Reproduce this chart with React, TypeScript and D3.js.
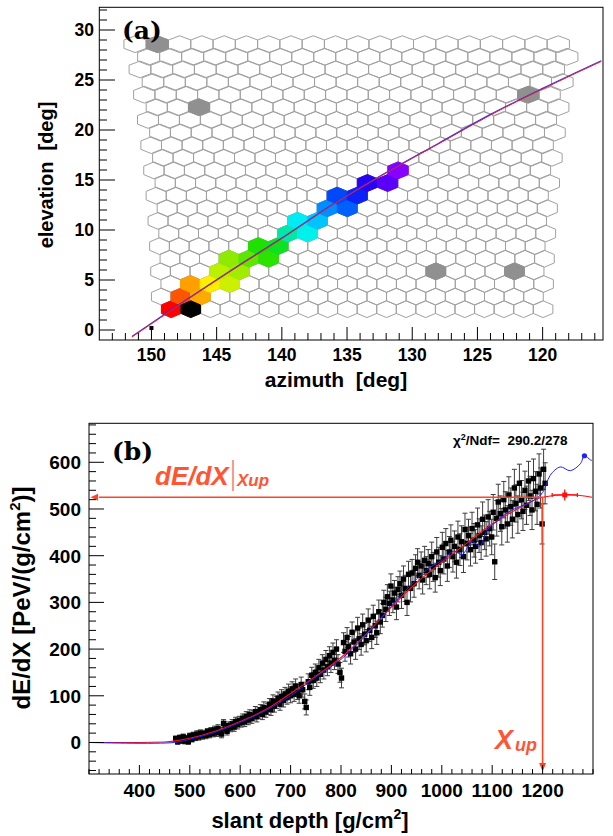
import React from "react";
import * as d3 from "d3";

// ---------- panel (a): camera pixels ----------
const nRows = 22;
const nCols = 20;
const rowEl0 = 2.08; // elevation of bottom row (deg)
const rowStep = 1.262; // elevation step between rows (deg)
const azCenter = 134.6;
const pixDeg = 1.5;

// pixels hit by the shower (row, col, arrival time rank)
const trackRow = [0, 1, 1, 2, 2, 2, 3, 3, 4, 4, 4, 5, 5, 6, 6, 7, 7, 8, 8, 9, 9, 10, 10, 11];
const trackCol = [0, 1, 2, 1, 2, 3, 3, 4, 3, 4, 5, 5, 6, 6, 7, 7, 8, 8, 9, 9, 10, 10, 11, 12];
const trackTime = [0, 1, 2.5, 2.3, 3.5, 4.6, 5, 5.6, 6, 6.9, 7.6, 7.8, 8.3, 9.5, 10.2, 10.4, 11, 11.8, 12.4, 12.7, 13.3, 13.9, 14.6, 15.2];
// saturated pixel
const satRow = [0];
const satCol = [1];
// random-trigger (noise) pixels
const noiseRow = [21, 16, 17, 3, 3];
const noiseCol = [1, 2, 18, 14, 18];

// shower-detector plane fit
const fitAz = [151.5, 148, 144, 140, 136, 132, 128, 124, 120, 115.5];
const fitEl = [-0.7, 2.38, 5.82, 9.14, 12.6, 15.7, 18.6, 21.5, 24.1, 26.86];

// station
const stationAz = [150];
const stationEl = [0];

// ---------- panel (b): longitudinal profile ----------
const depth = [472, 476, 480, 483, 487, 490, 494, 497, 500, 504, 507, 511, 514, 518, 521, 525, 528, 532, 535, 539, 542, 546, 549, 553, 556, 560, 563, 567, 570, 574, 577, 581, 584, 588, 591, 595, 598, 602, 605, 609, 612, 616, 619, 623, 626, 630, 633, 637, 640, 644, 647, 651, 654, 658, 661, 665, 668, 672, 675, 679, 682, 686, 689, 693, 696, 700, 703, 707, 710, 714, 717, 721, 724, 728, 731, 735, 738, 742, 745, 749, 752, 756, 759, 763, 766, 770, 773, 777, 780, 784, 787, 791, 794, 798, 801, 805, 808, 812, 815, 819, 822, 826, 829, 833, 836, 840, 843, 847, 850, 854, 857, 861, 864, 868, 871, 875, 878, 882, 885, 889, 892, 896, 899, 903, 906, 910, 913, 917, 920, 924, 927, 931, 934, 938, 941, 945, 948, 952, 955, 959, 962, 966, 969, 973, 976, 980, 983, 987, 990, 994, 997, 1001, 1004, 1008, 1011, 1015, 1018, 1022, 1025, 1029, 1032, 1036, 1039, 1043, 1046, 1050, 1053, 1057, 1060, 1064, 1067, 1071, 1074, 1078, 1081, 1085, 1088, 1092, 1095, 1099, 1102, 1105, 1109, 1112, 1116, 1119, 1123, 1126, 1130, 1133, 1137, 1140, 1144, 1147, 1151, 1154, 1158, 1161, 1165, 1168, 1172, 1175, 1179, 1182, 1186, 1189, 1193, 1196, 1199, 1202, 1205];
const dedx = [8, 2, 10, 4, 12, 3, 9, 2, 14, 7, 16, 10, 18, 12, 20, 14, 19, 15, 23, 17, 25, 19, 27, 21, 30, 24, 18, 41, 29, 24, 36, 31, 40, 33, 45, 38, 47, 42, 52, 44, 56, 48, 60, 51, 58, 66, 55, 63, 70, 60, 75, 66, 72, 82, 70, 89, 78, 86, 95, 82, 99, 90, 104, 96, 110, 100, 115, 103, 121, 108, 100, 124, 113, 88, 75, 130, 118, 144, 133, 150, 138, 160, 146, 170, 155, 178, 162, 186, 170, 193, 176, 200, 168, 150, 138, 214, 195, 225, 205, 190, 236, 215, 200, 245, 222, 210, 252, 232, 218, 262, 240, 225, 270, 250, 235, 280, 258, 272, 300, 285, 312, 298, 335, 305, 320, 290, 328, 340, 315, 350, 330, 300, 360, 330, 363, 340, 373, 386, 358, 378, 348, 390, 368, 383, 360, 398, 376, 353, 408, 386, 368, 418, 393, 426, 378, 408, 433, 398, 420, 386, 440, 413, 430, 398, 456, 426, 443, 413, 458, 433, 420, 466, 443, 428, 478, 450, 436, 483, 458, 440, 493, 387, 480, 515, 490, 462, 520, 498, 468, 530, 505, 478, 545, 512, 488, 555, 520, 495, 540, 508, 560, 528, 498, 565, 538, 510, 575, 545, 468, 585, 555];
const dedxErr = [6, 6, 6, 6, 6, 6, 6, 6, 6, 6, 6, 6, 7, 7, 7, 7, 7, 7, 7, 7, 7, 7, 8, 8, 8, 8, 8, 8, 8, 8, 8, 8, 9, 9, 9, 9, 9, 9, 9, 10, 10, 10, 10, 10, 10, 11, 11, 11, 11, 11, 12, 12, 12, 12, 12, 13, 13, 13, 13, 13, 14, 14, 14, 14, 15, 15, 15, 15, 15, 16, 16, 16, 16, 16, 16, 17, 17, 17, 17, 18, 18, 18, 18, 18, 19, 19, 19, 19, 20, 20, 20, 20, 20, 21, 21, 21, 21, 21, 22, 22, 22, 22, 22, 23, 23, 23, 23, 23, 24, 24, 24, 24, 24, 25, 25, 25, 25, 25, 26, 26, 26, 26, 26, 27, 27, 27, 27, 27, 28, 28, 28, 28, 28, 29, 29, 29, 29, 29, 29, 30, 30, 30, 30, 30, 31, 31, 31, 31, 31, 32, 32, 32, 32, 32, 33, 33, 33, 33, 33, 34, 34, 34, 34, 34, 35, 35, 35, 35, 35, 36, 36, 36, 36, 36, 37, 37, 37, 37, 37, 38, 38, 38, 38, 38, 38, 39, 39, 39, 39, 39, 40, 40, 40, 40, 40, 41, 41, 41, 41, 41, 42, 42, 42, 42, 42, 43, 43, 43, 43, 43, 44, 44, 44];

// Gaisser-Hillas fit (red)
const ghX = [300, 400, 450, 500, 550, 600, 650, 700, 750, 800, 850, 900, 950, 1000, 1050, 1100, 1150, 1200, 1250, 1298];
const ghY = [0, 0, 1, 9, 24, 45, 70, 105, 142, 182, 232, 290, 342, 386, 427, 468, 500, 525, 531, 525];
// reconstructed profile (blue)
const profX = [300, 470, 500, 550, 600, 650, 700, 750, 800, 850, 900, 925, 950, 975, 1000, 1025, 1040, 1060, 1075, 1090, 1110, 1130, 1150, 1175, 1200, 1215, 1235, 1255, 1275, 1283, 1295, 1298];
const profY = [0, 0, 7, 22, 43, 68, 100, 140, 178, 230, 292, 322, 350, 374, 390, 410, 402, 430, 420, 455, 474, 492, 503, 514, 535, 572, 590, 582, 597, 614, 605, 604];

const xmaxDepth = [1244];
const xmaxDepthErr = [25];
const xmaxVal = [530];
const xmaxValErr = [12];
const profEndX = [1283];
const profEndY = [614];

const xUp = 1200;
const dedxUp = 525;

const sans = "'Liberation Sans', Arial, Helvetica, sans-serif";
const serif = "'DejaVu Serif', 'Liberation Serif', serif";
const red = "#ff4422";

const palStops = [0, 1, 2.5, 3.5, 5, 6.5, 8, 9.5, 10.3, 11, 12, 13, 14, 15.2];
const palColors = ["#ff0000", "#ff5500", "#ffaa00", "#ffee00", "#bbf000", "#77e800", "#10e000", "#00e8a8", "#00f2f2", "#00c4ff", "#0080ff", "#0030f8", "#2c00f0", "#8800ff"];

export default function App() {
  // ---------- scales ----------
  const xA = d3.scaleLinear().domain([154, 115.37]).range([99.3, 603]);
  const yA = d3.scaleLinear().domain([-1, 32.27]).range([340, 7.3]);
  const xB = d3.scaleLinear().domain([300, 1300]).range([89, 593]);
  const yB = d3.scaleLinear().domain([-67.5, 683.5]).range([774, 423.3]);
  const timeColor = d3.scaleLinear<string>().domain(palStops).range(palColors);

  // pixel polygon (pointy-top hexagon, rows offset by half a pixel)
  const hexPath = (r: number, c: number) => {
    const el = rowEl0 + r * rowStep;
    const pitch = pixDeg / Math.cos((el * Math.PI) / 180);
    const shift = r % 2 === 0 ? 0.25 : -0.25;
    const az = azCenter - (c - 9.5 + shift) * pitch;
    const tip = (rowStep * 2) / 3;
    const side = rowStep / 3;
    const pts: [number, number][] = [
      [az, el + tip],
      [az - pitch / 2, el + side],
      [az - pitch / 2, el - side],
      [az, el - tip],
      [az + pitch / 2, el - side],
      [az + pitch / 2, el + side],
    ];
    return "M" + pts.map((p) => `${xA(p[0])},${yA(p[1])}`).join("L") + "Z";
  };

  const grid: { r: number; c: number }[] = [];
  for (let r = 0; r < nRows; r++) for (let c = 0; c < nCols; c++) grid.push({ r, c });

  const fitLine = d3
    .line<number>()
    .x((d, i) => xA(fitAz[i]))
    .y((d) => yA(d))
    .curve(d3.curveMonotoneX);
  const fitD = fitLine(fitEl) || "";

  const ghLine = d3
    .line<number>()
    .x((d, i) => xB(ghX[i]))
    .y((d) => yB(d))
    .curve(d3.curveMonotoneX);
  const profLine = d3
    .line<number>()
    .x((d, i) => xB(profX[i]))
    .y((d) => yB(d))
    .curve(d3.curveCatmullRom);

  const aMinorX = d3.range(116, 154, 1);
  const aMajorX = d3.range(120, 151, 5);
  const aMinorY = d3.range(0, 33, 1);
  const aMajorY = d3.range(0, 31, 5);
  const bMinorX = d3.range(300, 1301, 20);
  const bMajorX = d3.range(400, 1201, 100);
  const bMinorY = d3.range(-60, 681, 20);
  const bMajorY = d3.range(0, 601, 100);

  return (
    <svg width={613} height={836} style={{ position: "absolute", left: 0, top: 0, background: "#fff" }}>
      {/* ================= panel (a) ================= */}
      <g>
        {grid.map((g, i) => (
          <path key={i} d={hexPath(g.r, g.c)} fill="none" stroke="#a0a0a0" strokeWidth={1} />
        ))}
        {noiseRow.map((r, i) => (
          <path key={"n" + i} d={hexPath(r, noiseCol[i])} fill="#909090" stroke="#909090" strokeWidth={1} />
        ))}
        {trackRow.map((r, i) => (
          <path key={"t" + i} d={hexPath(r, trackCol[i])} fill={timeColor(trackTime[i])} stroke={timeColor(trackTime[i])} strokeWidth={1} />
        ))}
        {satRow.map((r, i) => (
          <path key={"s" + i} d={hexPath(r, satCol[i])} fill="#000" stroke="#000" strokeWidth={1} />
        ))}
        <path d={fitD} fill="none" stroke="#2233ff" strokeWidth={1.2} transform="translate(0,-0.6)" />
        <path d={fitD} fill="none" stroke="#ff1a1a" strokeWidth={1} />
        {stationAz.map((a, i) => (
          <rect key={i} x={xA(a) - 2} y={yA(stationEl[i]) - 4} width={4} height={4} fill="#000" />
        ))}

        <rect x={99.3} y={7.3} width={603 - 99.3} height={340 - 7.3} fill="none" stroke="#000" strokeWidth={1} />
        {aMinorX.map((v) => (
          <line key={"ax" + v} x1={xA(v)} x2={xA(v)} y1={340} y2={aMajorX.includes(v) ? 327 : 333} stroke="#000" />
        ))}
        {aMinorY.map((v) => (
          <line key={"ay" + v} y1={yA(v)} y2={yA(v)} x1={99.3} x2={aMajorY.includes(v) ? 115 : 107} stroke="#000" />
        ))}
        {aMajorX.map((v) => (
          <text key={"axl" + v} x={xA(v)} y={361} textAnchor="middle" fontFamily={sans} fontWeight="bold" fontSize={17.5}>
            {v}
          </text>
        ))}
        {aMajorY.map((v) => (
          <text key={"ayl" + v} x={94} y={yA(v) + 6} textAnchor="end" fontFamily={sans} fontWeight="bold" fontSize={17.5}>
            {v}
          </text>
        ))}
        <text x={336} y={387} textAnchor="middle" fontFamily={sans} fontWeight="bold" fontSize={21} style={{ whiteSpace: "pre" }}>
          {"azimuth  [deg]"}
        </text>
        <text transform="translate(53,175) rotate(-90)" textAnchor="middle" fontFamily={sans} fontWeight="bold" fontSize={20} style={{ whiteSpace: "pre" }}>
          {"elevation  [deg]"}
        </text>
        <text x={122} y={39} fontFamily={serif} fontWeight="bold" fontSize={25}>
          (a)
        </text>
      </g>

      {/* ================= panel (b) ================= */}
      <g>
        {depth.map((x, i) => (
          <g key={"e" + i} stroke="#3c3c3c" strokeWidth={1}>
            <line x1={xB(x)} x2={xB(x)} y1={yB(dedx[i] - dedxErr[i])} y2={yB(dedx[i] + dedxErr[i])} />
            <line x1={xB(x) - 2.5} x2={xB(x) + 2.5} y1={yB(dedx[i] - dedxErr[i])} y2={yB(dedx[i] - dedxErr[i])} />
            <line x1={xB(x) - 2.5} x2={xB(x) + 2.5} y1={yB(dedx[i] + dedxErr[i])} y2={yB(dedx[i] + dedxErr[i])} />
          </g>
        ))}
        {depth.map((x, i) => (
          <rect key={"m" + i} x={xB(x) - 2.7} y={yB(dedx[i]) - 2.7} width={5.4} height={5.4} fill="#000" />
        ))}
        <path d={ghLine(ghY) || ""} fill="none" stroke="#ff1010" strokeWidth={1.1} />
        <path d={profLine(profY) || ""} fill="none" stroke="#2020ff" strokeWidth={1} />
        {xmaxDepth.map((x, i) => (
          <g key={"xm" + i} stroke="#ff1010" strokeWidth={1.3}>
            <line x1={xB(x - xmaxDepthErr[i])} x2={xB(x + xmaxDepthErr[i])} y1={yB(xmaxVal[i])} y2={yB(xmaxVal[i])} />
            <line x1={xB(x)} x2={xB(x)} y1={yB(xmaxVal[i] - xmaxValErr[i])} y2={yB(xmaxVal[i] + xmaxValErr[i])} />
            <line x1={xB(x - xmaxDepthErr[i])} x2={xB(x - xmaxDepthErr[i])} y1={yB(xmaxVal[i]) - 2} y2={yB(xmaxVal[i]) + 2} />
            <line x1={xB(x + xmaxDepthErr[i])} x2={xB(x + xmaxDepthErr[i])} y1={yB(xmaxVal[i]) - 2} y2={yB(xmaxVal[i]) + 2} />
            <rect x={xB(x) - 2.5} y={yB(xmaxVal[i]) - 2.5} width={5} height={5} fill="#ff1010" stroke="none" />
          </g>
        ))}
        {profEndX.map((x, i) => (
          <circle key={"pe" + i} cx={xB(x)} cy={yB(profEndY[i])} r={2.6} fill="#2020ff" />
        ))}

        {/* Xup arrows */}
        <line x1={xB(xUp)} x2={xB(320)} y1={yB(dedxUp)} y2={yB(dedxUp)} stroke={red} strokeWidth={1.6} />
        <path d={`M${xB(303)},${yB(dedxUp)}L${xB(318)},${yB(dedxUp) - 3.5}L${xB(318)},${yB(dedxUp) + 3.5}Z`} fill={red} />
        <line x1={xB(xUp)} x2={xB(xUp)} y1={yB(dedxUp)} y2={yB(-45)} stroke={red} strokeWidth={1.6} />
        <path d={`M${xB(xUp)},${yB(-62)}L${xB(xUp) - 3.5},${yB(-44)}L${xB(xUp) + 3.5},${yB(-44)}Z`} fill={red} />

        <rect x={89} y={423.3} width={504} height={774 - 423.3} fill="none" stroke="#000" strokeWidth={1} />
        {bMinorX.map((v) => (
          <line key={"bx" + v} x1={xB(v)} x2={xB(v)} y1={774} y2={bMajorX.includes(v) ? 765 : 769} stroke="#000" />
        ))}
        {bMinorY.map((v) => (
          <line key={"by" + v} y1={yB(v)} y2={yB(v)} x1={89} x2={bMajorY.includes(v) ? 104 : 96} stroke="#000" />
        ))}
        {bMajorX.map((v) => (
          <text key={"bxl" + v} x={xB(v)} y={797} textAnchor="middle" fontFamily={sans} fontWeight="bold" fontSize={19}>
            {v}
          </text>
        ))}
        {bMajorY.map((v) => (
          <text key={"byl" + v} x={81} y={yB(v) + 7} textAnchor="end" fontFamily={sans} fontWeight="bold" fontSize={19}>
            {v}
          </text>
        ))}
        <text x={310} y={828} textAnchor="middle" fontFamily={sans} fontWeight="bold" fontSize={22}>
          slant depth [g/cm
          <tspan fontSize={14} dy={-9}>
            2
          </tspan>
          <tspan dy={9}>]</tspan>
        </text>
        <text transform="translate(30,598) rotate(-90)" textAnchor="middle" fontFamily={sans} fontWeight="bold" fontSize={24}>
          dE/dX [PeV/(g/cm
          <tspan fontSize={15} dy={-10}>
            2
          </tspan>
          <tspan dy={10}>)]</tspan>
        </text>
        <text x={112} y={460} fontFamily={serif} fontWeight="bold" fontSize={25}>
          (b)
        </text>
        <text x={453} y={445} fontFamily={sans} fontWeight="bold" fontSize={13.5} style={{ whiteSpace: "pre" }}>
          χ
          <tspan fontSize={9} dy={-5}>
            2
          </tspan>
          <tspan dy={5}>{"/Ndf=  290.2/278"}</tspan>
        </text>

        <text x={155} y={485} fontFamily={sans} fontWeight="bold" fontStyle="italic" fontSize={26} fill="#ff5533">
          dE/dX
        </text>
        <line x1={233} x2={233} y1={460} y2={491} stroke="#ff5533" strokeWidth={1.2} />
        <text x={237} y={486} fontFamily={sans} fontWeight="bold" fontStyle="italic" fontSize={17} fill="#ff5533">
          Xup
        </text>
        <text x={495} y={749} fontFamily={sans} fontWeight="bold" fontStyle="italic" fontSize={27} fill="#ff5533">
          X
        </text>
        <text x={515} y={751} fontFamily={sans} fontWeight="bold" fontStyle="italic" fontSize={18} fill="#ff5533">
          up
        </text>
      </g>
    </svg>
  );
}
